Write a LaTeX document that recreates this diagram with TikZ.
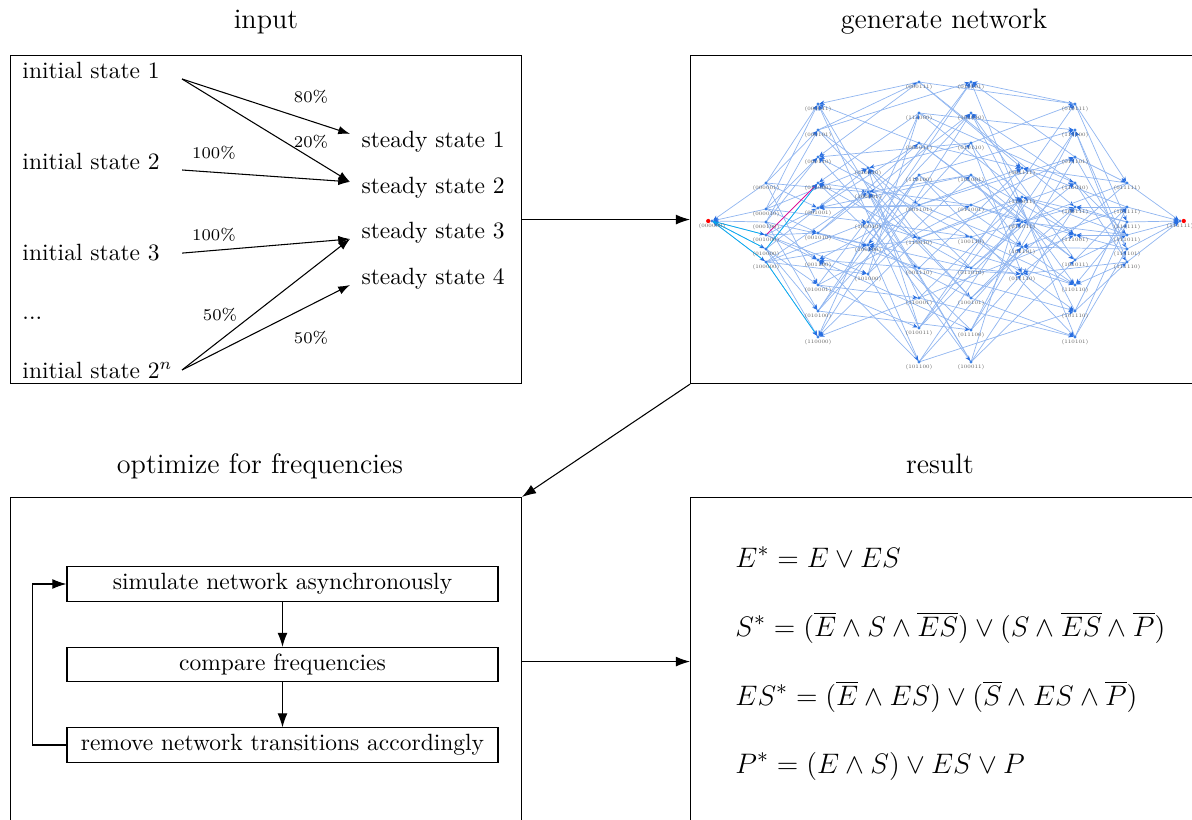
\documentclass[tikz,border=0pt]{standalone}
\usetikzlibrary{arrows.meta,calc}
\definecolor{netedge}{RGB}{145,182,240}
\definecolor{nettip}{RGB}{40,110,225}
\definecolor{netdot}{RGB}{60,130,230}
\definecolor{lblgray}{RGB}{90,90,90}
\tikzset{
  panel/.style={draw, line width=0.45pt, minimum width=217.4pt, minimum height=139.6pt, inner sep=0, anchor=north west},
  title/.style={font=\large, anchor=base, inner sep=0},
  flow/.style={line width=0.45pt, -{Latex[length=6pt,width=4.2pt]}},
  trans/.style={line width=0.45pt, -{Latex[length=5pt,width=3.6pt]}},
  init/.style={anchor=base west, inner sep=0, text width=67.7pt},
  steady/.style={anchor=base west, inner xsep=4.7pt, inner ysep=0},
  pct/.style={font=\scriptsize, inner sep=0},
  stepbox/.style={draw, line width=0.45pt, minimum width=183.4pt, minimum height=14.5pt, inner sep=0},
  eq/.style={anchor=base west, inner sep=0, font=\fontsize{12.6}{15}\selectfont},
  netline/.style={draw=netedge, line width=0.3pt, -{Stealth[length=2.2pt,width=1.8pt,color=nettip]}, shorten >=0.6pt},
  netlbl/.style={font=\fontsize{2.2}{2.6}\selectfont, text=lblgray, inner sep=0},
}
\begin{document}
\begin{tikzpicture}[x=0.4255pt, y=-0.4255pt]
\useasboundingbox (0,0) rectangle (1192,820);

% ---- the four panels ----
\node[panel] (inbox)  at (10,55)  {};
\node[panel] (netbox) at (690,55) {};
\node[panel] (optbox) at (10,497) {};
\node[panel] (resbox) at (690,497) {};

\node[title] (tin)  at (266,29)  {input};
\node[title] (tnet) at (944,29)  {generate network};
\node[title] (topt) at (260,474) {optimize for frequencies};
\node[title] (tres) at (940,474) {result};

\draw[flow] (inbox.east) -- (netbox.west);
\draw[flow] (netbox.south west) -- (optbox.north east);
\draw[flow] (optbox.east) -- (resbox.west);

% ---- input: initial states and their steady states ----
\node[init] (i1) at (22,79)  {initial state 1};
\node[init] (i2) at (22,170) {initial state 2};
\node[init] (i3) at (22,261) {initial state 3};
\node[init] (idots) at (22,320) {...};
\node[init] (in) at (22,378) {initial state $2^n$};

\node[steady] (s1) at (350,148) {steady state 1};
\node[steady] (s2) at (350,193.6) {steady state 2};
\node[steady] (s3) at (350,239) {steady state 3};
\node[steady] (s4) at (350,285) {steady state 4};

\draw[trans] (i1.base east) -- ([yshift=6pt]s1.base west);
\draw[trans] (i1.base east) -- ([yshift=5pt]s2.base west);
\draw[trans] (i2.base east) -- ([yshift=5pt]s2.base west);
\draw[trans] (i3.east) -- (s3.base west);
\draw[trans] (in.east) -- (s3.base west);
\draw[trans] (in.east) -- (s4.base west);

\node[pct] (p80)  at (311,97)  {80\%};
\node[pct] (p20)  at (311,142) {20\%};
\node[pct] (p100a) at (214,153) {100\%};
\node[pct] (p100b) at (214,235) {100\%};
\node[pct] (p50a) at (220,315) {50\%};
\node[pct] (p50b) at (311,338) {50\%};

% ---- state transition network (6 variables, layered by weight) ----
\foreach \v/\x/\y in {
  0/712/221,
  1/766/183, 2/766/209, 4/766/222, 8/766/235, 16/766/249, 32/766/262,
  3/818/104, 5/818/130, 6/818/157, 24/818/183, 9/818/208, 10/818/233, 12/818/260, 17/818/285, 20/818/311, 48/818/337,
  18/868/168, 33/868/192, 34/868/222, 36/868/245, 40/868/274,
  7/919/82, 56/919/113, 11/919/143, 52/919/175, 13/919/205, 50/919/238, 14/919/268, 49/919/298, 19/919/328, 44/919/362,
  21/971/82, 42/971/113, 22/971/143, 41/971/175, 25/971/205, 38/971/237, 26/971/268, 37/971/298, 28/971/330, 35/971/362,
  15/1022/168, 51/1022/197, 27/1022/222, 45/1022/247, 30/1022/274,
  23/1075/104, 60/1075/130, 29/1075/157, 58/1075/183, 39/1075/207, 57/1075/235, 43/1075/260, 54/1075/285, 46/1075/311, 53/1075/337,
  31/1127/183, 47/1127/207, 55/1127/222, 59/1127/235, 61/1127/249, 62/1127/262,
  63/1180/221}{
  \coordinate (n\v) at (\x,\y);
}

% transitions: states differing in exactly one variable
\foreach \v in {0,...,63}{
  \foreach \b in {0,...,5}{
    \pgfmathtruncatemacro\bitval{mod(floor(\v/2^\b),2)}
    \ifnum\bitval=0
      \pgfmathtruncatemacro\w{\v+2^\b}
      \pgfmathtruncatemacro\dirsel{mod(\v*5+\b*3,3)}
      \ifnum\dirsel=0
        \draw[netline] (n\w) -- (n\v);
      \else
        \draw[netline] (n\v) -- (n\w);
      \fi
    \fi
  }
}

% highlighted trajectories
\draw[netline, draw=cyan] (n0) -- (n8);
\draw[netline, draw=cyan] (n0) -- (n16);
\draw[netline, draw=cyan] (n0) -- (n32);
\draw[netline, draw=cyan] (n16) -- (n24);
\draw[netline, draw=cyan] (n32) -- (n48);
\draw[netline, draw=magenta] (n8) -- (n24);

% state markers and labels
\foreach \v in {0,...,63}{
  \fill[netdot] (n\v) circle[radius=0.7pt];
  \pgfmathtruncatemacro\dA{mod(floor(\v/32),2)}
  \pgfmathtruncatemacro\dB{mod(floor(\v/16),2)}
  \pgfmathtruncatemacro\dC{mod(floor(\v/8),2)}
  \pgfmathtruncatemacro\dD{mod(floor(\v/4),2)}
  \pgfmathtruncatemacro\dE{mod(floor(\v/2),2)}
  \pgfmathtruncatemacro\dF{mod(\v,2)}
  \node[netlbl] (l\v) at ($(n\v)+(0,5)$) {(\dA\dB\dC\dD\dE\dF)};
}
\fill[red] ([xshift=-1.6pt]n0) circle[radius=0.9pt];
\fill[red] ([xshift=1.6pt]n63) circle[radius=0.9pt];

% ---- optimisation loop ----
\node[stepbox] (sim) at (282.5,584) {simulate network asynchronously};
\node[stepbox] (cmp) at (282.5,664.5) {compare frequencies};
\node[stepbox] (rem) at (282.5,745) {remove network transitions accordingly};
\draw[flow] (sim) -- (cmp);
\draw[flow] (cmp) -- (rem);
\draw[flow] (rem.west) -- ++(-34,0) |- (sim.west);

% ---- resulting update rules ----
\node[eq] (e1) at (735,567) {$E^* = E \vee ES$};
\node[eq] (e2) at (735,636) {$S^* = (\overline{E} \wedge S \wedge \overline{ES}) \vee (S \wedge \overline{ES} \wedge \overline{P})$};
\node[eq] (e3) at (735,705) {$ES^* = (\overline{E} \wedge ES) \vee (\overline{S} \wedge ES \wedge \overline{P})$};
\node[eq] (e4) at (735,773) {$P^* = (E \wedge S) \vee ES \vee P$};
\end{tikzpicture}
\end{document}
